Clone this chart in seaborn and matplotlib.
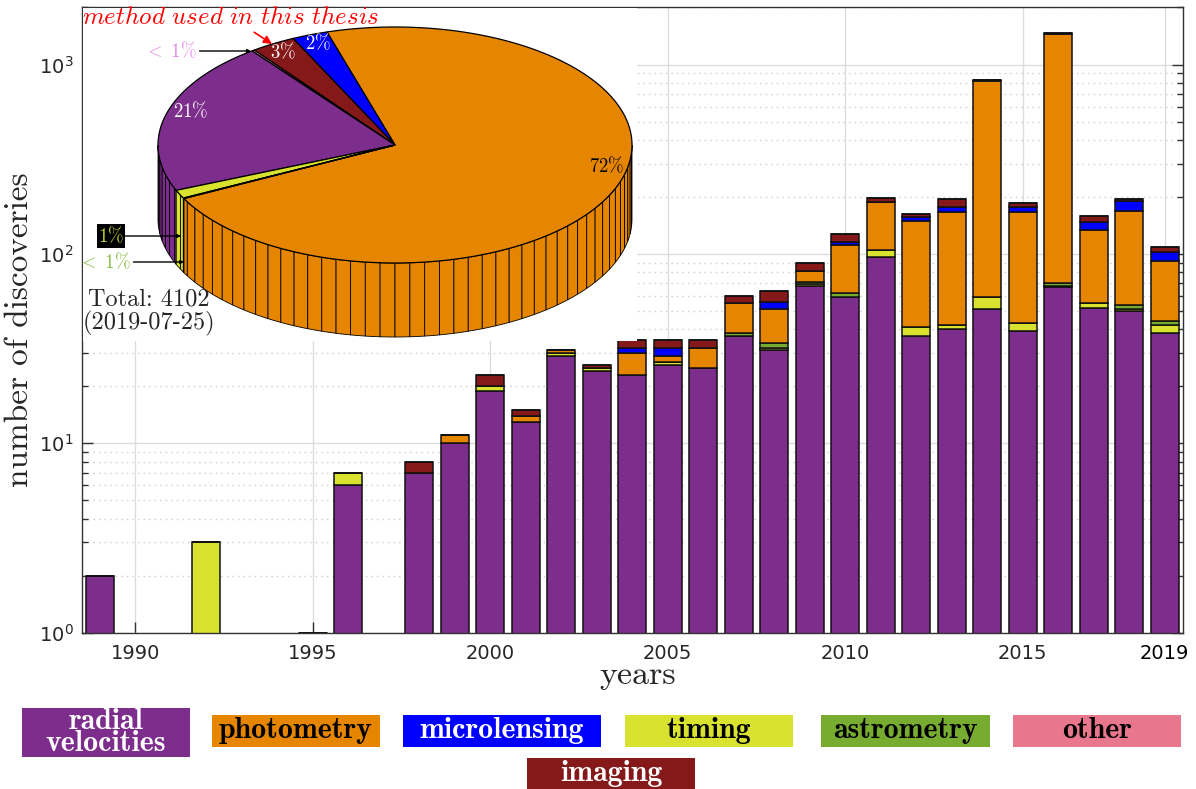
import numpy as np
import pandas as pd
import seaborn as sns
import matplotlib
matplotlib.use("Agg")
from matplotlib import pyplot as plt
from matplotlib.patches import Polygon, Rectangle
from matplotlib.ticker import FixedLocator, LogLocator, NullFormatter

# ---- discoveries per year and method ----
years = list(range(1989, 2020))
radial_velocities = [2, 0, 0, 0, 0, 0, 1, 6, 0, 7, 10, 19, 13, 29, 24, 23, 26, 25, 37, 31,
                     68, 59, 96, 37, 40, 51, 39, 67, 52, 50, 38]
timing = [0, 0, 0, 3, 0, 0, 0, 1, 0, 0, 0, 1, 0, 1, 1, 0, 1, 0, 0, 1,
          1, 0, 9, 4, 2, 8, 4, 1, 3, 1, 4]
astrometry = [0, 0, 0, 0, 0, 0, 0, 0, 0, 0, 0, 0, 0, 0, 0, 0, 0, 0, 1, 2,
              2, 3, 0, 0, 0, 0, 0, 2, 0, 3, 2]
photometry = [0, 0, 0, 0, 0, 0, 0, 0, 0, 0, 1, 0, 1, 1, 0, 7, 2, 7, 17, 17,
              10, 50, 82, 108, 124, 762, 124, 1374, 78, 115, 48]
microlensing = [0, 0, 0, 0, 0, 0, 0, 0, 0, 0, 0, 0, 0, 0, 0, 2, 3, 0, 0, 5,
                0, 4, 2, 7, 10, 4, 9, 12, 14, 22, 10]
imaging = [0, 0, 0, 0, 0, 0, 0, 0, 0, 1, 0, 3, 1, 0, 1, 3, 3, 3, 5, 8,
           9, 12, 8, 7, 19, 8, 10, 8, 12, 5, 7]
other = [0, 0, 0, 0, 0, 0, 0, 0, 0, 0, 0, 0, 0, 0, 0, 0, 0, 0, 0, 0,
         0, 0, 0, 0, 0, 0, 0, 0, 0, 0, 0]
tick_years = [1990, 1995, 2000, 2005, 2010, 2015, 2019]

# ---- totals for the pie (counter-clockwise order) ----
pie_methods = ["photometry", "microlensing", "imaging", "other",
               "radial velocities", "timing", "astrometry"]
pie_counts = [2959, 100, 125, 8, 860, 47, 3]
pie_date = "2019-07-25"

colors = {
    "radial velocities": "#7d2e8d",
    "photometry": "#e68600",
    "microlensing": "#0000ff",
    "timing": "#d9e32f",
    "astrometry": "#77ac30",
    "other": "#e8768c",
    "imaging": "#851818",
}
stack_order = ["radial velocities", "timing", "astrometry", "photometry",
               "microlensing", "imaging", "other"]

W, H = 1196, 789
sns.set_theme(style="white")
plt.rcParams["font.family"] = ["DejaVu Sans"]
plt.rcParams["axes.unicode_minus"] = False

wide = pd.DataFrame({
    "year": years,
    "radial velocities": radial_velocities,
    "timing": timing,
    "astrometry": astrometry,
    "photometry": photometry,
    "microlensing": microlensing,
    "imaging": imaging,
    "other": other,
})
long = wide.melt(id_vars="year", var_name="method", value_name="count")

fig = plt.figure(figsize=(W / 100, H / 100), dpi=100)
ax = fig.add_axes([82 / W, 1 - 632.7 / H, (1182.5 - 82) / W, (632.7 - 7.5) / H])
ax.set_yscale("log")

# seaborn stacks the first hue level on top, so reverse the bottom-up order
sns.histplot(data=long, x="year", weights="count", hue="method",
             hue_order=stack_order[::-1], palette=colors, multiple="stack",
             discrete=True, shrink=0.8, edgecolor="#111111", linewidth=1.1,
             alpha=1, legend=False, ax=ax)

ax.set_xlim(1988.5, 2019.5)
ax.set_ylim(1, 2000)
ax.xaxis.set_major_locator(FixedLocator(tick_years))
ax.yaxis.set_major_locator(LogLocator(base=10))
ax.yaxis.set_minor_locator(LogLocator(base=10, subs=np.arange(2, 10)))
ax.yaxis.set_minor_formatter(NullFormatter())
ax.set_axisbelow(True)
ax.grid(True, which="major", axis="both", color="#dcdcdc", lw=1)
ax.grid(True, which="minor", axis="y", color="#cccccc", lw=1, ls=(0, (1, 3)))
ax.tick_params(which="both", direction="in", top=False, right=True, left=True,
               bottom=True, color="#333333", labelcolor="#262626", labelsize=14)
ax.tick_params(which="major", length=8, width=1)
ax.tick_params(which="minor", length=4, width=1)
ax.tick_params(axis="x", pad=8)
ax.tick_params(axis="y", pad=6)
for s in ax.spines.values():
    s.set_visible(True)
    s.set_color("#333333")
    s.set_linewidth(1)
ax.get_xticklabels()[-1].set_color("black")

ax.set_xlabel("years", fontsize=24.5, family="cmr10")
ax.xaxis.set_label_coords(0.505, -0.069)
ax.xaxis.label.set_va("center")
ax.set_ylabel("number of discoveries", fontsize=24, family="cmr10")
ax.yaxis.set_label_coords(-0.057, 0.484)
ax.yaxis.label.set_va("center")

# ---- 3D-looking pie in the upper left ----
axp = fig.add_axes([83 / W, 1 - 341 / H, (637 - 83) / W, (341 - 8) / H])
axp.set_xlim(83, 637)
axp.set_ylim(341, 8)
axp.set_xticks([])
axp.set_yticks([])
for s in axp.spines.values():
    s.set_visible(False)
axp.set_facecolor("white")

cx, cy, rx, ry, depth = 395, 145, 237, 118, 74
start = 207.0
facet = 3.6


def ell(t, dz=0.0):
    t = np.radians(t)
    return cx + rx * np.cos(t), cy - ry * np.sin(t) + dz


total = sum(pie_counts)
spans = np.array(pie_counts) / total * 360
bounds = start + np.concatenate([[0], np.cumsum(spans)])

# side wall (front half only)
for name, a0, a1 in zip(pie_methods, bounds[:-1], bounds[1:]):
    for lo, hi in [(180, 360), (540, 720)]:
        s, e = max(a0, lo), min(a1, hi)
        if e <= s:
            continue
        edges = np.unique(np.concatenate(([s], np.arange(np.ceil(s / facet) * facet, e, facet), [e])))
        for t0, t1 in zip(edges[:-1], edges[1:]):
            ts = np.linspace(t0, t1, 4)
            xt, yt = ell(ts)
            xb, yb = ell(ts[::-1], depth)
            axp.add_patch(Polygon(np.column_stack([np.r_[xt, xb], np.r_[yt, yb]]),
                                  closed=True, fc=colors[name], ec="black", lw=0.6))

# top face
for name, a0, a1 in zip(pie_methods, bounds[:-1], bounds[1:]):
    ts = np.linspace(a0, a1, max(3, int((a1 - a0) / 0.5)))
    xt, yt = ell(ts)
    pts = np.column_stack([np.r_[cx, xt], np.r_[cy, yt]])
    axp.add_patch(Polygon(pts, closed=True, fc=colors[name], ec="black", lw=0.9))


def pct_label(n):
    p = n / total * 100
    return r"$<\ 1\%$" if p < 1 else r"$%d\%%$" % round(p)


labels = {name: pct_label(n) for name, n in zip(pie_methods, pie_counts)}

# labels placed on the slices
inside = {
    "photometry": ((607, 166), "black"),
    "radial velocities": ((191, 111), "white"),
    "imaging": ((283, 52), "white"),
    "microlensing": ((318, 43), "white"),
}
for name, (pos, col) in inside.items():
    axp.text(*pos, labels[name], ha="center", va="center", color=col,
             fontsize=13.5, math_fontfamily="cm")

# labels pointing at thin slices
outside = {
    "other": ((170, 51), (251, 51), "#e98de9", None),
    "timing": ((111, 236), (181, 236), "#c9d330", "black"),
    "astrometry": ((104, 262), (184, 262), "#86c046", None),
}
for name, (pos, target, col, bg) in outside.items():
    kw = {}
    if bg:
        kw["bbox"] = dict(facecolor=bg, edgecolor="none", pad=1.0)
    axp.annotate(labels[name], xy=target, xytext=pos, ha="center", va="center",
                 color=col, fontsize=13.5, math_fontfamily="cm",
                 arrowprops=dict(arrowstyle="-|>", color="black", lw=1,
                                 mutation_scale=5, shrinkA=0, shrinkB=0), **kw)

axp.annotate(r"$method\ used\ in\ this\ thesis$", xy=(272, 44), xytext=(231, 17),
             ha="center", va="center", color="red", fontsize=18,
             math_fontfamily="cm",
             arrowprops=dict(arrowstyle="-|>", color="red", lw=1.2,
                             mutation_scale=12, shrinkA=0, shrinkB=0))

axp.text(149, 312, "Total: %d\n(%s)" % (total, pie_date), ha="center", va="center",
         fontsize=17.5, family="cmr10", linespacing=1.0)

# ---- legend as coloured boxes ----
legend_boxes = [
    ("radial velocities", "radial\nvelocities", "white", (22, 708, 190, 757)),
    ("photometry", "photometry", "black", (212, 715, 380, 747)),
    ("microlensing", "microlensing", "white", (403, 715, 601, 747)),
    ("timing", "timing", "black", (625, 715, 793, 747)),
    ("astrometry", "astrometry", "black", (821, 715, 990, 747)),
    ("other", "other", "black", (1013, 715, 1181, 747)),
    ("imaging", "imaging", "white", (527, 758, 695, 789)),
]
for name, text, tcol, (x0, y0, x1, y1) in legend_boxes:
    fig.add_artist(Rectangle((x0 / W, 1 - y1 / H), (x1 - x0) / W, (y1 - y0) / H,
                             transform=fig.transFigure, fc=colors[name], ec="none"))
    fig.text((x0 + x1) / 2 / W, 1 - (y0 + y1) / 2 / H, text, ha="center", va="center",
             family="cmb10", fontsize=21.5, color=tcol, linespacing=0.78)

fig.savefig("out.png", dpi=100)
